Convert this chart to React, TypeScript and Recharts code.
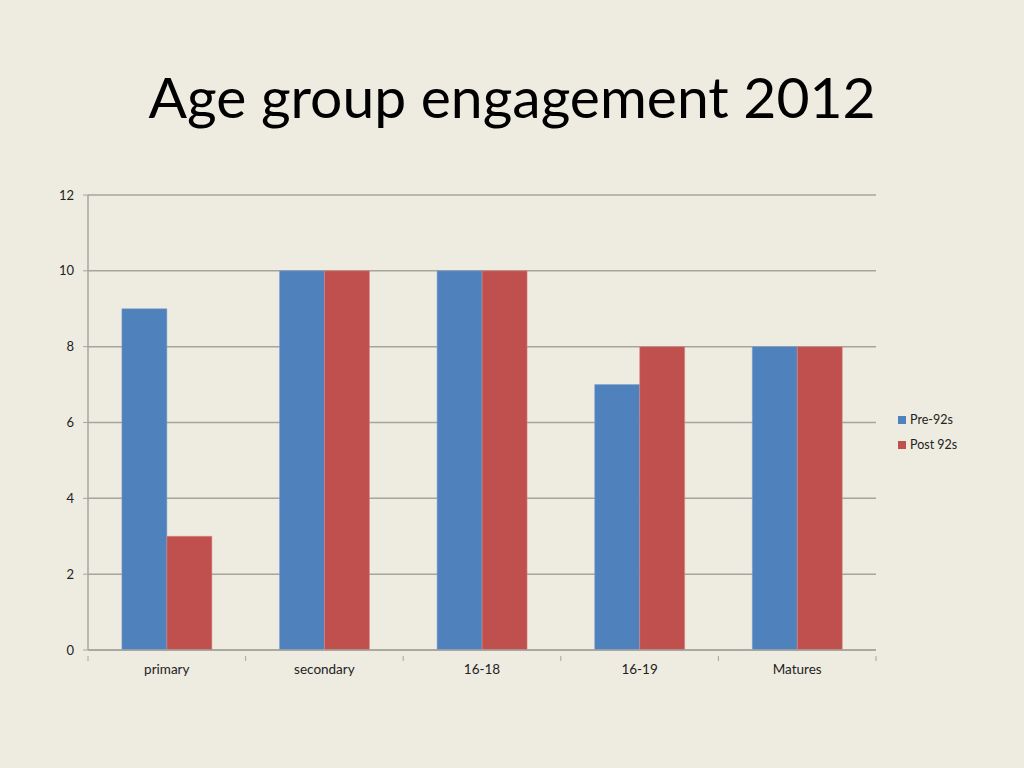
import React from "react";
import { BarChart, Bar, XAxis, YAxis, CartesianGrid, Legend } from "recharts";

const categories = ["primary", "secondary", "16-18", "16-19", "Matures"];
const pre92s = [9, 10, 10, 7, 8];
const post92s = [3, 10, 10, 8, 8];
const yTicks = [0, 2, 4, 6, 8, 10, 12];

const data = categories.map((c, i) => ({ name: c, pre: pre92s[i], post: post92s[i] }));

const BG = "#EEECE1";
const BLUE = "#4F81BD";
const RED = "#C0504D";
const GRID = "#A6A49C";
const FONT = "Lato, 'Open Sans', sans-serif";

const legendItems = [
  { label: "Pre-92s", color: BLUE },
  { label: "Post 92s", color: RED },
];

const LegendContent = () => (
  <div style={{ fontFamily: FONT, fontSize: 12.5, color: "#222" }}>
    {legendItems.map((it) => (
      <div key={it.label} style={{ display: "flex", alignItems: "center", height: 25 }}>
        <span style={{ width: 8, height: 8, background: it.color, marginRight: 4, display: "inline-block" }} />
        <span>{it.label}</span>
      </div>
    ))}
  </div>
);

const TICK_MARGIN = 8;

const CategoryTick = (props: any) => {
  const { x, y, payload, index, visibleTicksCount } = props;
  const half = payload && typeof payload.offset === "number" ? payload.offset : 0;
  const axisY = y - TICK_MARGIN;
  return (
    <g>
      <line x1={x - half} x2={x - half} y1={axisY} y2={axisY + 5} stroke={GRID} strokeWidth={1} />
      {index === visibleTicksCount - 1 && (
        <line x1={x + half} x2={x + half} y1={axisY} y2={axisY + 5} stroke={GRID} strokeWidth={1} />
      )}
      <text x={x} y={y} dy="0.71em" textAnchor="middle" fill="#222" fontSize={13.5} fontFamily={FONT}>
        {payload.value}
      </text>
    </g>
  );
};

export default function App() {
  return (
    <div style={{ position: "absolute", left: 0, top: 0, width: 1024, height: 768, background: BG, fontFamily: FONT }}>
      <div
        style={{
          position: "absolute",
          left: 0,
          width: 1024,
          top: 60,
          textAlign: "center",
          fontSize: 57,
          color: "#000",
          lineHeight: "72px",
          fontFamily: FONT,
        }}
      >
        Age group engagement 2012
      </div>
      <BarChart
        width={1024}
        height={768}
        data={data}
        margin={{ top: 195, right: 48, left: 0, bottom: 88 }}
        barCategoryGap="21.5%"
        barGap={0}
      >
        <CartesianGrid vertical={false} stroke={GRID} strokeWidth={1.5} />
        <XAxis
          dataKey="name"
          tickLine={false}
          axisLine={{ stroke: GRID, strokeWidth: 1.5 }}
          tick={<CategoryTick />}
          tickMargin={TICK_MARGIN}
          height={30}
          interval={0}
        />
        <YAxis
          domain={[0, 12]}
          ticks={yTicks}
          width={88}
          tickSize={5}
          tickMargin={9}
          tickLine={{ stroke: GRID }}
          axisLine={{ stroke: GRID, strokeWidth: 1.5 }}
          tick={{ fill: "#222", fontSize: 13, fontFamily: FONT }}
        />
        <Legend
          layout="vertical"
          verticalAlign="middle"
          align="right"
          content={<LegendContent />}
          wrapperStyle={{ left: 898, top: 407, width: 100 }}
        />
        <Bar dataKey="pre" name="Pre-92s" fill={BLUE} stroke="#7FA2CF" strokeWidth={0.5} isAnimationActive={false} />
        <Bar dataKey="post" name="Post 92s" fill={RED} stroke="#D88A88" strokeWidth={0.5} isAnimationActive={false} />
      </BarChart>
    </div>
  );
}
